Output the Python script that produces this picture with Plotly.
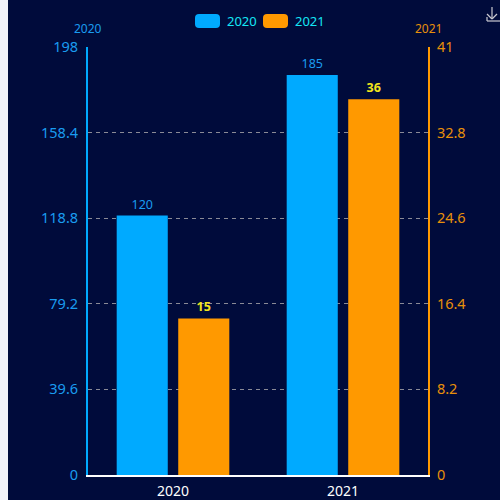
import plotly.graph_objects as go

categories = ["2020", "2021"]
series_2020 = [120, 185]
series_2021 = [15, 36]
left_ticks = [0, 39.6, 79.2, 118.8, 158.4, 198]
right_ticks = [0, 8.2, 16.4, 24.6, 32.8, 41]

BG = "#000b3b"
BLUE = "#00aaff"
ORANGE = "#ff9900"
FONT = "Noto Sans"

OFFX = 8  # page offset of the chart (left strip)
W, H = 492, 500
L, R, T, B = 80, 72, 47, 25
PW, PH = W - L - R, H - T - B


def px(x):
    # page pixel -> paper coordinate
    return (x - OFFX - L) / PW


def py(y):
    return (H - B - y) / PH


fig = go.Figure()
fig.add_trace(go.Bar(
    x=categories, y=series_2020, name="2020", marker=dict(color=BLUE, line=dict(width=0)),
    offsetgroup="a", yaxis="y", text=series_2020, textposition="outside",
    textfont=dict(color="#1a9cf0", size=12.5, family=FONT), cliponaxis=False,
))
fig.add_trace(go.Bar(
    x=categories, y=series_2021, name="2021", marker=dict(color=ORANGE, line=dict(width=0)),
    offsetgroup="b", yaxis="y2", text=series_2021, textposition="outside",
    textfont=dict(color="#f2e51c", size=12.5, family=FONT, weight="bold"), cliponaxis=False,
))

shapes = []


def rrect(x0, y0, x1, y1, r, color):
    ax0, ax1, ay0, ay1 = px(x0), px(x1), py(y0), py(y1)
    rx, ry = r / PW, r / PH
    path = (f"M{ax0+rx},{ay0} L{ax1-rx},{ay0} Q{ax1},{ay0} {ax1},{ay0-ry} "
            f"L{ax1},{ay1+ry} Q{ax1},{ay1} {ax1-rx},{ay1} L{ax0+rx},{ay1} "
            f"Q{ax0},{ay1} {ax0},{ay1+ry} L{ax0},{ay0-ry} Q{ax0},{ay0} {ax0+rx},{ay0} Z")
    return dict(type="path", xref="paper", yref="paper", path=path, fillcolor=color, line=dict(width=0))


shapes.append(rrect(195, 14, 220, 28, 4, BLUE))
shapes.append(rrect(263, 14, 288, 28, 4, ORANGE))

# download icon
icon = "#c8c8d0"
for (x0, y0, x1, y1) in [(492, 7, 492, 19), (487, 14, 492, 19), (492, 19, 497, 14),
                         (487, 17, 487, 21), (487, 21, 500, 21)]:
    shapes.append(dict(type="line", xref="paper", yref="paper", x0=px(x0), y0=py(y0), x1=px(x1), y1=py(y1),
                       line=dict(color=icon, width=1.2)))

annotations = [
    dict(text="2020", x=px(225), y=py(21), xref="paper", yref="paper", xanchor="left", yanchor="middle",
         showarrow=False, font=dict(color="#14e6f5", size=13, family=FONT)),
    dict(text="2021", x=px(293), y=py(21), xref="paper", yref="paper", xanchor="left", yanchor="middle",
         showarrow=False, font=dict(color="#14e6f5", size=13, family=FONT)),
    dict(text="2020", x=px(88), y=py(28), xref="paper", yref="paper", xanchor="center", yanchor="middle",
         showarrow=False, font=dict(color="#1a9cf0", size=12, family=FONT)),
    dict(text="2021", x=px(428), y=py(28), xref="paper", yref="paper", xanchor="center", yanchor="middle",
         showarrow=False, font=dict(color="#e8900a", size=12, family=FONT)),
]

fig.update_layout(
    width=W, height=H,
    margin=dict(l=L, r=R, t=T, b=B, pad=0, autoexpand=False),
    paper_bgcolor=BG, plot_bgcolor=BG,
    showlegend=False,
    barmode="group", bargap=0.276, bargroupgap=0.17,
    font=dict(family=FONT),
    xaxis=dict(
        showline=True, linecolor="#ffffff", linewidth=1.5, showgrid=False, ticks="",
        tickfont=dict(color="#ffffff", size=14, family=FONT), zeroline=False, automargin=False,
        ticklabelstandoff=2,
    ),
    yaxis=dict(
        range=[0, 198], tickvals=left_ticks, ticktext=[f"{v:g}" for v in left_ticks],
        showline=True, linecolor=BLUE, linewidth=2, ticks="", automargin=False,
        showgrid=True, gridcolor="#8a8a96", griddash="4px,4px", gridwidth=1, zeroline=False,
        tickfont=dict(color="#1a9cf0", size=14.5, family=FONT), ticklabelstandoff=5,
    ),
    yaxis2=dict(
        range=[0, 41], tickvals=right_ticks, ticktext=[f"{v:g}" for v in right_ticks],
        overlaying="y", side="right", showline=True, linecolor=ORANGE, linewidth=2, ticks="",
        showgrid=False, zeroline=False, automargin=False,
        tickfont=dict(color="#e8900a", size=14.5, family=FONT), ticklabelstandoff=4,
    ),
    shapes=shapes, annotations=annotations,
)

fig.write_html(
    "out.html",
    post_script="document.body.style.margin='0 0 0 8px';document.body.style.backgroundColor='#f2f3f8';"
                "document.documentElement.style.overflow='hidden';",
)
